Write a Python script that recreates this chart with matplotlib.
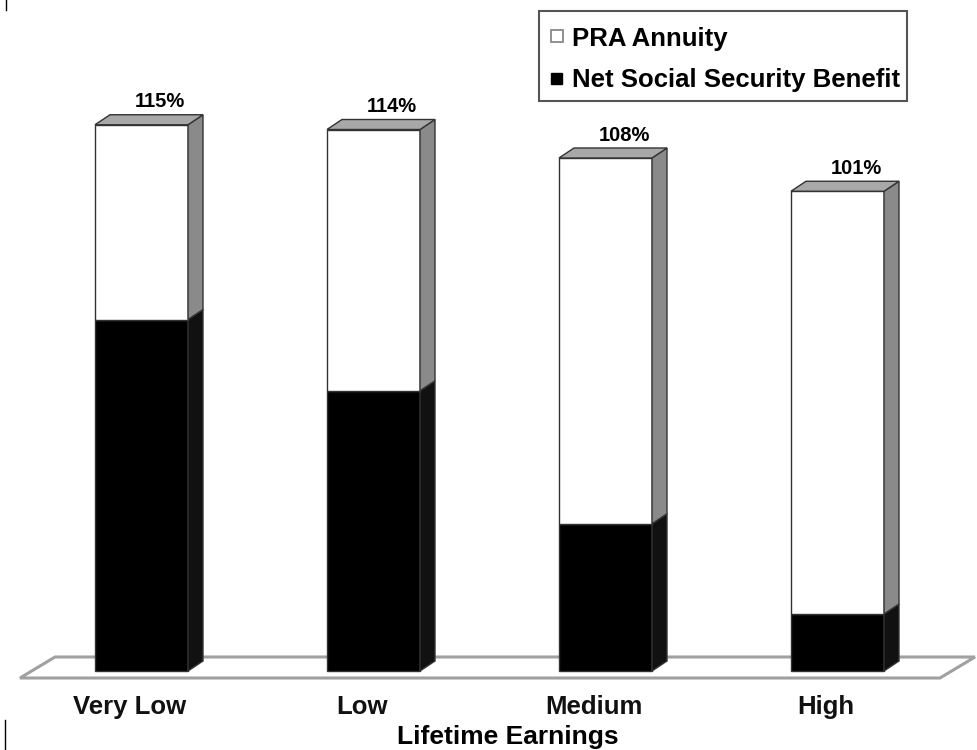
import matplotlib
matplotlib.use("Agg")
import matplotlib.pyplot as plt
from matplotlib.patches import Polygon, Rectangle

# ---- data ----
categories = ["Very Low", "Low", "Medium", "High"]
net_ss = [74, 59, 31, 12]          # Net Social Security Benefit (%)
pra = [41, 55, 77, 89]             # PRA Annuity (%)
total_labels = ["115%", "114%", "108%", "101%"]
legend_labels = ["PRA Annuity", "Net Social Security Benefit"]
xlabel = "Lifetime Earnings"

FONT = ["Liberation Sans", "DejaVu Sans"]

W, H = 977, 750
fig = plt.figure(figsize=(W / 100, H / 100), dpi=100)

# data axes spanning the figure
px_per_cat = 232.0
px_per_pct = 4.75
x0_px, base_px = 141.5, 671.0
ax = fig.add_axes([0, 0, 1, 1])
ax.set_xlim(-x0_px / px_per_cat, (W - x0_px) / px_per_cat)
ax.set_ylim(-(H - base_px) / px_per_pct, base_px / px_per_pct)
ax.axis("off")

hw = 46.5 / px_per_cat      # half bar width
dx = 15.0 / px_per_cat      # depth x
dy = 10.0 / px_per_pct      # depth y

# floor
fl = [(-121.5 / px_per_cat, -7 / px_per_pct), (-86.5 / px_per_cat, 14 / px_per_pct),
      (833.5 / px_per_cat, 14 / px_per_pct), (798.5 / px_per_cat, -7 / px_per_pct)]
ax.add_patch(Polygon(fl, closed=True, facecolor="white", edgecolor="#a0a0a0",
                     linewidth=2.2, zorder=1))

lab_shift = -12 / px_per_cat
for i, cat in enumerate(categories):
    x = i
    segs = [(0, net_ss[i], "black", "#111111"),
            (net_ss[i], net_ss[i] + pra[i], "white", "#8a8a8a")]
    for y0, y1, fc, sc in segs:
        ax.add_patch(Rectangle((x - hw, y0), 2 * hw, y1 - y0, facecolor=fc,
                               edgecolor="#333333", linewidth=1.0, zorder=3))
        side = [(x + hw, y0), (x + hw + dx, y0 + dy), (x + hw + dx, y1 + dy), (x + hw, y1)]
        ax.add_patch(Polygon(side, closed=True, facecolor=sc, edgecolor="#333333",
                             linewidth=1.0, zorder=3))
    top = net_ss[i] + pra[i]
    topface = [(x - hw, top), (x - hw + dx, top + dy), (x + hw + dx, top + dy), (x + hw, top)]
    ax.add_patch(Polygon(topface, closed=True, facecolor="#a8a8a8", edgecolor="#333333",
                         linewidth=1.0, zorder=3))
    ax.text(x + 0.08, top + dy + 0.7, total_labels[i], ha="center", va="bottom",
            fontsize=14.5, fontweight="bold", family=FONT, zorder=5)
    ax.text(x + lab_shift, -36 / px_per_pct, cat, ha="center", va="center", fontsize=18.5,
            fontweight="bold", family=FONT, color="#111111", zorder=5)

ax.text((508 - x0_px) / px_per_cat, -66 / px_per_pct, xlabel, ha="center", va="center",
        fontsize=19, fontweight="bold", family=FONT, zorder=5)

# overlay axes in pixel coordinates for legend & marks
ov = fig.add_axes([0, 0, 1, 1])
ov.set_xlim(0, W)
ov.set_ylim(H, 0)
ov.axis("off")
ov.add_patch(Rectangle((539, 11), 368, 90, facecolor="white", edgecolor="#555555",
                       linewidth=1.5, zorder=2))
ov.add_patch(Rectangle((551, 30), 12, 12, facecolor="white", edgecolor="#888888",
                       linewidth=1.3, zorder=3))
ov.add_patch(Rectangle((551, 73), 11, 11, facecolor="black", edgecolor="black",
                       linewidth=1.0, zorder=3))
ov.text(572, 39, legend_labels[0], ha="left", va="center", fontsize=18.5,
        fontweight="bold", family=FONT, zorder=4)
ov.text(572, 80, legend_labels[1], ha="left", va="center", fontsize=18.5,
        fontweight="bold", family=FONT, zorder=4)
ov.plot([6, 6], [0, 10], color="black", lw=1)
ov.plot([5, 5], [720, 750], color="black", lw=1)

fig.savefig("out.png", dpi=100)
